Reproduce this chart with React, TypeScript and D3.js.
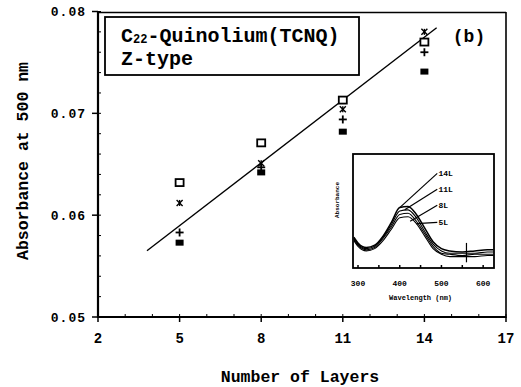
import React from "react";
import * as d3 from "d3";

const layers = [5, 8, 11, 14];
const openSquare = [0.0632, 0.0671, 0.0713, 0.077];
const asterisk = [0.0612, 0.0651, 0.0704, 0.078];
const plusMark = [0.0583, 0.0647, 0.0694, 0.076];
const filledSquare = [0.0573, 0.0642, 0.0682, 0.0741];
const fitX = [3.8, 14.45];
const fitY = [0.0565, 0.0784];
const xTicks = [2, 5, 8, 11, 14, 17];
const yTicks = [0.05, 0.06, 0.07, 0.08];

const insetWl = [290, 300, 320, 340, 360, 380, 400, 420, 440, 460, 480, 500, 520, 550, 580, 610, 625];
const inset14 = [0.27, 0.22, 0.18, 0.2, 0.28, 0.4, 0.53, 0.54, 0.47, 0.35, 0.23, 0.17, 0.15, 0.14, 0.15, 0.16, 0.16];
const inset11 = [0.26, 0.21, 0.17, 0.19, 0.27, 0.38, 0.5, 0.51, 0.44, 0.32, 0.21, 0.15, 0.13, 0.13, 0.13, 0.14, 0.14];
const inset8 = [0.25, 0.2, 0.16, 0.18, 0.26, 0.36, 0.47, 0.48, 0.41, 0.3, 0.19, 0.13, 0.12, 0.11, 0.12, 0.12, 0.12];
const inset5 = [0.24, 0.19, 0.15, 0.17, 0.24, 0.34, 0.44, 0.45, 0.39, 0.28, 0.17, 0.12, 0.1, 0.1, 0.1, 0.11, 0.11];
const insetLabels = ["14L", "11L", "8L", "5L"];
const insetLabelY = [0.83, 0.69, 0.55, 0.4];
const insetAnchorWl = [400, 412, 425, 440];
const insetTickLabels = [300, 400, 500, 600];

const MONO = "'Liberation Mono', 'DejaVu Sans Mono', monospace";

export default function App() {
  const x = d3.scaleLinear().domain([2, 17]).range([98, 506]);
  const y = d3.scaleLinear().domain([0.05, 0.08]).range([317, 11.5]);

  const ix = d3.scaleLinear().domain([288, 626]).range([353, 494]);
  const iy = d3.scaleLinear().domain([0, 1]).range([268, 154]);

  const line = d3.line<[number, number]>().x((d) => x(d[0])).y((d) => y(d[1]));
  const iline = d3
    .line<[number, number]>()
    .x((d) => ix(d[0]))
    .y((d) => iy(d[1]))
    .curve(d3.curveMonotoneX);

  const insetSeries = [inset14, inset11, inset8, inset5];
  const minorY = d3.range(0.05, 0.0801, 0.002);
  const minorX = d3.range(2, 17.01, 1);

  return (
    <svg width={521} height={387} style={{ position: "absolute", left: 0, top: 0, background: "#fff" }}>
      <rect width={521} height={387} fill="#fff" />
      {/* frame */}
      <line x1={98} x2={98} y1={11} y2={318} stroke="#000" strokeWidth={2.2} />
      <line x1={97} x2={506} y1={317} y2={317} stroke="#000" strokeWidth={2.2} />
      <line x1={98} x2={506} y1={12.5} y2={12.5} stroke="#000" strokeWidth={1.4} />
      <line x1={506} x2={506} y1={12} y2={318} stroke="#000" strokeWidth={1.6} />

      {/* y ticks */}
      {yTicks.map((t) => (
        <g key={"y" + t}>
          <line x1={92} x2={98} y1={y(t)} y2={y(t)} stroke="#000" strokeWidth={1.5} />
          <text
            x={86}
            y={y(t)}
            dy="0.35em"
            textAnchor="end"
            fontFamily={MONO}
            fontWeight="bold"
            fontSize={13}
            letterSpacing={1}
          >
            {t.toFixed(2)}
          </text>
        </g>
      ))}
      {minorY.map((t, i) => (
        <line key={"my" + i} x1={98} x2={101} y1={y(t)} y2={y(t)} stroke="#000" strokeWidth={1} />
      ))}
      {/* x ticks */}
      {xTicks.map((t) => (
        <g key={"x" + t}>
          <line x1={x(t)} x2={x(t)} y1={317} y2={322} stroke="#000" strokeWidth={1.5} />
          <text
            x={x(t)}
            y={338}
            dy="0.35em"
            textAnchor="middle"
            fontFamily={MONO}
            fontWeight="bold"
            fontSize={14}
          >
            {t}
          </text>
        </g>
      ))}
      {minorX.map((t, i) => (
        <line key={"mx" + i} x1={x(t)} x2={x(t)} y1={317} y2={314} stroke="#000" strokeWidth={1} />
      ))}

      {/* axis titles */}
      <text
        x={300}
        y={376}
        dy="0.35em"
        textAnchor="middle"
        fontFamily={MONO}
        fontWeight="bold"
        fontSize={16.5}
      >
        Number of Layers
      </text>
      <text
        transform={`translate(22,161) rotate(-90)`}
        textAnchor="middle"
        dy="0.35em"
        fontFamily={MONO}
        fontWeight="bold"
        fontSize={16.5}
      >
        Absorbance at 500 nm
      </text>

      {/* title box */}
      <rect x={105} y={17} width={254} height={58} fill="none" stroke="#000" strokeWidth={1.8} />
      <text x={121} y={42} fontFamily={MONO} fontWeight="bold" fontSize={20}>
        C
        <tspan fontSize={12} dy={1}>22</tspan>
        <tspan dy={-1}>-Quinolium(TCNQ)</tspan>
      </text>
      <text x={121} y={65} fontFamily={MONO} fontWeight="bold" fontSize={20}>
        Z-type
      </text>
      <text x={469} y={42} textAnchor="middle" fontFamily={MONO} fontWeight="bold" fontSize={18}>
        (b)
      </text>

      {/* fit line */}
      <path
        d={line(fitX.map((v, i) => [v, fitY[i]]) as [number, number][]) || ""}
        fill="none"
        stroke="#000"
        strokeWidth={1.4}
      />

      {/* markers */}
      {layers.map((l, i) => (
        <g key={"m" + l}>
          <rect
            x={x(l) - 4}
            y={y(openSquare[i]) - 3.5}
            width={8}
            height={7}
            fill="#fff"
            stroke="#000"
            strokeWidth={1.8}
          />
          <rect x={x(l) - 4} y={y(filledSquare[i]) - 3} width={8} height={6} fill="#000" />
          <g stroke="#000" strokeWidth={1.8}>
            <line x1={x(l) - 4} x2={x(l) + 4} y1={y(plusMark[i])} y2={y(plusMark[i])} />
            <line x1={x(l)} x2={x(l)} y1={y(plusMark[i]) - 4} y2={y(plusMark[i]) + 4} />
          </g>
          <g stroke="#000" strokeWidth={1.4}>
            <line x1={x(l) - 3} x2={x(l) + 3} y1={y(asterisk[i]) - 3} y2={y(asterisk[i]) + 3} />
            <line x1={x(l) - 3} x2={x(l) + 3} y1={y(asterisk[i]) + 3} y2={y(asterisk[i]) - 3} />
            <line x1={x(l)} x2={x(l)} y1={y(asterisk[i]) - 3} y2={y(asterisk[i]) + 3} />
          </g>
        </g>
      ))}

      {/* inset */}
      <g>
        <rect x={353} y={154} width={141} height={114} fill="#fff" stroke="#000" strokeWidth={1.8} />
        {insetSeries.map((s, k) => (
          <path
            key={"is" + k}
            d={iline(insetWl.map((w, i) => [w, s[i]]) as [number, number][]) || ""}
            fill="none"
            stroke="#000"
            strokeWidth={k === 0 ? 1.5 : 1.1}
          />
        ))}
        {insetLabels.map((lab, k) => {
          const s = insetSeries[k];
          const idx = insetWl.findIndex((w) => w >= insetAnchorWl[k]);
          const v = s[idx];
          return (
            <g key={"il" + k}>
              <line
                x1={ix(insetAnchorWl[k])}
                y1={iy(v)}
                x2={ix(490)}
                y2={iy(insetLabelY[k])}
                stroke="#000"
                strokeWidth={1.2}
              />
              <text
                x={ix(493)}
                y={iy(insetLabelY[k])}
                dy="0.35em"
                fontFamily={MONO}
                fontWeight="bold"
                fontSize={8}
              >
                {lab}
              </text>
            </g>
          );
        })}
        <line x1={ix(560)} x2={ix(560)} y1={iy(0.22)} y2={iy(0.05)} stroke="#000" strokeWidth={1.2} />
        {d3.range(300, 601, 50).map((w) => (
          <line key={"it" + w} x1={ix(w)} x2={ix(w)} y1={268} y2={265} stroke="#000" strokeWidth={1.5} />
        ))}
        {insetTickLabels.map((w) => (
          <text
            key={"itl" + w}
            x={ix(w)}
            y={283}
            dy="0.35em"
            textAnchor="middle"
            fontFamily={MONO}
            fontWeight="bold"
            fontSize={8}
          >
            {w}
          </text>
        ))}
        <text
          x={ix(450)}
          y={298}
          dy="0.35em"
          textAnchor="middle"
          fontFamily={MONO}
          fontWeight="bold"
          fontSize={7}
        >
          Wavelength (nm)
        </text>
        <text
          transform={`translate(337,200) rotate(-90)`}
          textAnchor="middle"
          dy="0.35em"
          fontFamily={MONO}
          fontWeight="bold"
          fontSize={6}
        >
          Absorbance
        </text>
      </g>
    </svg>
  );
}
